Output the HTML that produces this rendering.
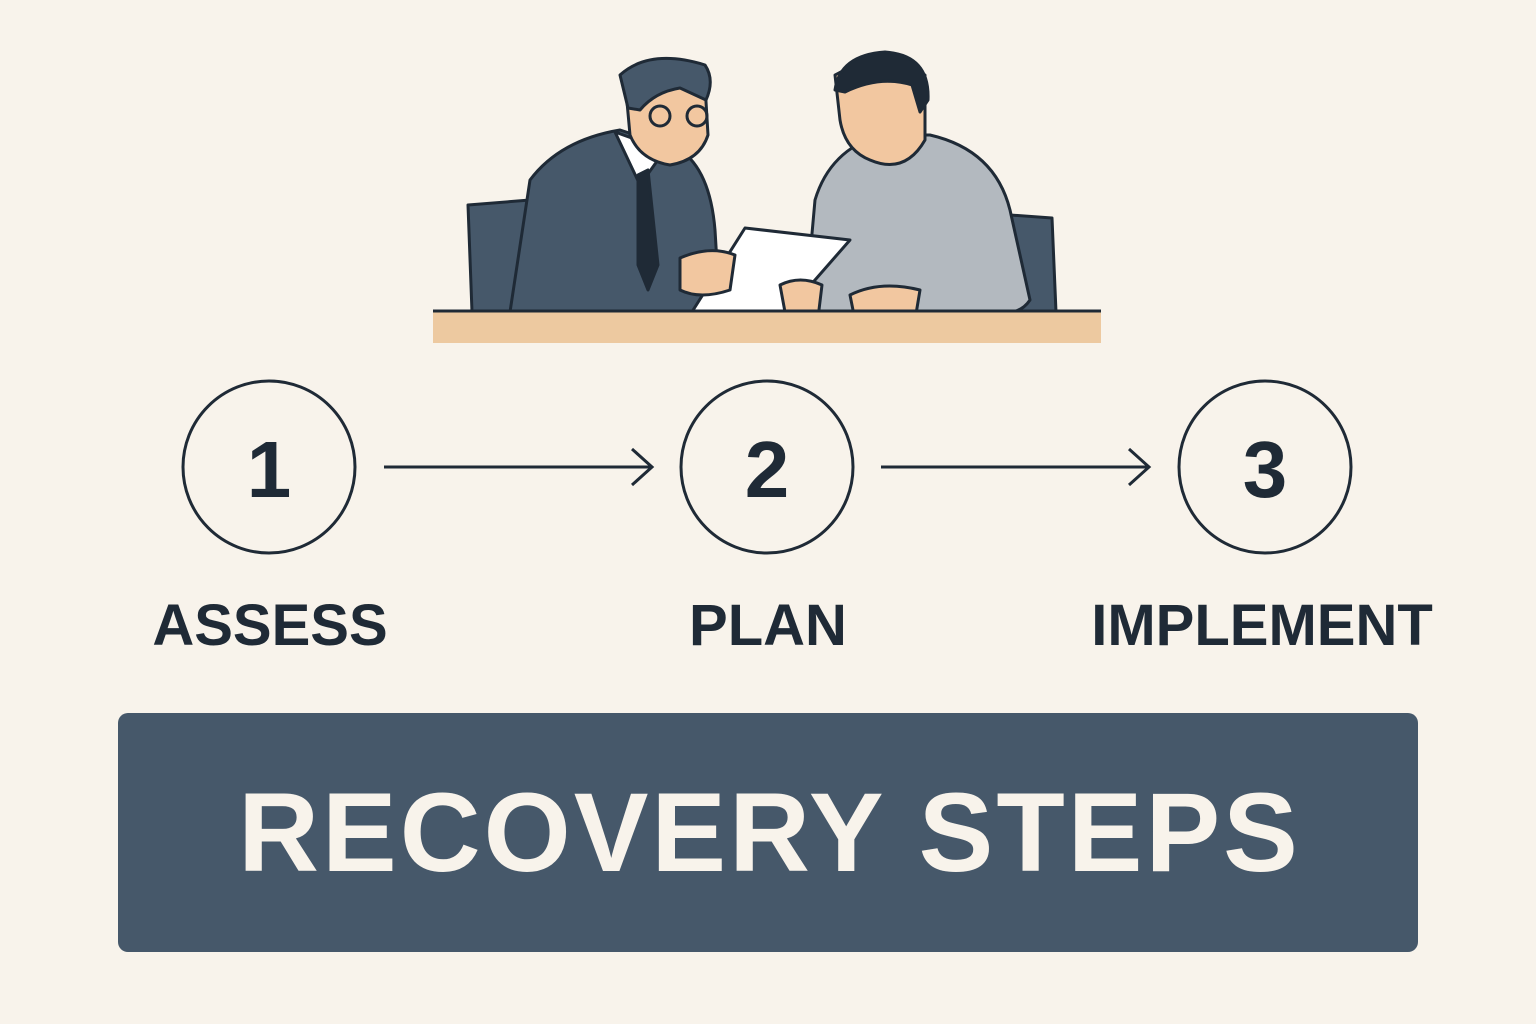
<!DOCTYPE html>
<html><head><meta charset="utf-8"><style>
html,body{margin:0;padding:0;}
body{width:1536px;height:1024px;background:#f8f3eb;position:relative;overflow:hidden;font-family:"Liberation Sans",sans-serif;}
.lbl{position:absolute;top:592px;font-weight:bold;font-size:58px;color:#1f2a36;transform:translateX(-50%);white-space:nowrap;}
.banner{position:absolute;left:118px;top:713px;width:1300px;height:239px;background:#46586a;border-radius:10px;}
.banner span{position:absolute;left:0;right:0;top:0;line-height:239px;text-align:center;font-weight:bold;font-size:112px;color:#f8f3eb;letter-spacing:3px;text-indent:3px;}
</style></head><body>
<svg width="1536" height="1024" style="position:absolute;left:0;top:0">
<g stroke="#1f2a36" stroke-width="3" stroke-linejoin="round" stroke-linecap="round">
<path d="M468 205 L530 200 L535 312 L472 312 Z" fill="#46586a"/>
<path d="M1010 215 L1052 218 L1056 312 L1012 312 Z" fill="#46586a"/>
<path d="M510 312 L530 180 Q560 140 620 130 L680 150 Q710 170 715 230 L720 312 Z" fill="#46586a"/>
<path d="M615 132 L640 185 L665 150 Z" fill="#fff"/>
<path d="M638 175 L648 170 L658 265 L648 290 L638 265 Z" fill="#1f2a36"/>
<path d="M625 80 Q660 60 705 85 L708 135 Q700 160 670 165 Q640 160 630 135 Z" fill="#f2c7a0"/>
<path d="M620 75 Q650 48 705 65 Q715 80 706 100 L680 88 Q655 92 640 110 L628 108 Z" fill="#46586a"/>
<circle cx="660" cy="116" r="10" fill="none"/><circle cx="697" cy="116" r="10" fill="none"/>
<path d="M805 312 L815 200 Q830 150 880 135 L930 135 Q995 150 1010 210 L1030 300 Q1020 315 1000 312 Z" fill="#b3b9bf"/>
<path d="M835 75 Q880 50 925 75 L925 140 Q905 175 870 160 Q845 150 840 120 Z" fill="#f2c7a0"/>
<path d="M835 90 Q840 55 885 52 Q930 55 928 100 L920 112 L912 85 Q880 75 845 92 Z" fill="#1f2a36"/>
<path d="M745 228 L850 240 L780 320 L690 315 Z" fill="#fff"/>
<path d="M680 258 Q710 245 735 255 L730 290 Q700 300 680 290 Z" fill="#f2c7a0"/>
<path d="M780 285 Q800 275 822 285 L818 318 L785 312 Z" fill="#f2c7a0"/>
<path d="M850 295 Q880 280 920 290 L915 320 L855 320 Z" fill="#f2c7a0"/>
</g>
<rect x="433" y="310" width="668" height="33" fill="#edc9a0"/>
<line x1="433" y1="311" x2="1101" y2="311" stroke="#1f2a36" stroke-width="3"/>
<g fill="none" stroke="#1f2a36" stroke-width="3">
<circle cx="269" cy="467" r="86"/><circle cx="767" cy="467" r="86"/><circle cx="1265" cy="467" r="86"/>
<line x1="384" y1="467" x2="652" y2="467"/><polyline points="632,449 652,467 632,485"/>
<line x1="881" y1="467" x2="1149" y2="467"/><polyline points="1129,449 1149,467 1129,485"/>
</g>
<g font-family="Liberation Sans, sans-serif" font-weight="bold" font-size="80" fill="#1f2a36" text-anchor="middle">
<text x="269" y="497">1</text><text x="767" y="497">2</text><text x="1265" y="497">3</text>
</g>
</svg>
<div class="lbl" style="left:270px">ASSESS</div>
<div class="lbl" style="left:768px">PLAN</div>
<div class="lbl" style="left:1262px">IMPLEMENT</div>
<div class="banner"><span>RECOVERY STEPS</span></div>
</body></html>
